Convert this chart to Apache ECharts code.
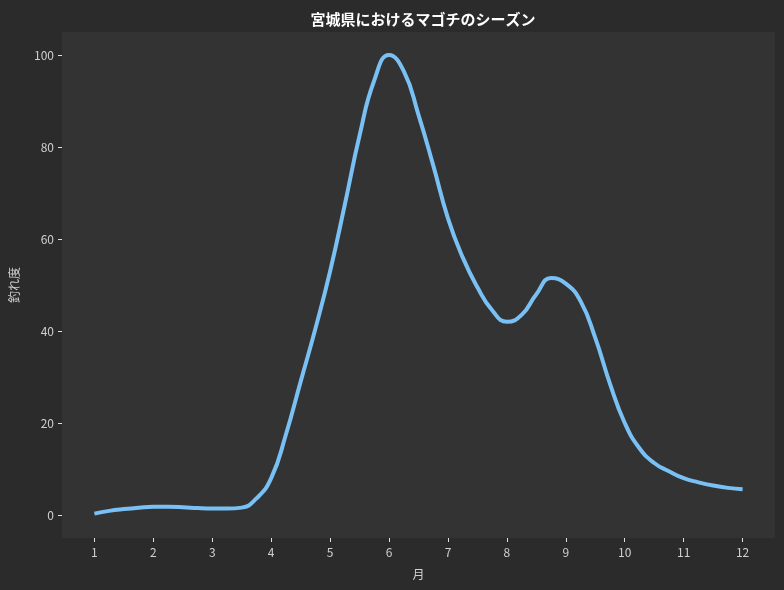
<!DOCTYPE html>
<html>
<head>
<meta charset="utf-8">
<script src="https://cdn.jsdelivr.net/npm/echarts@6/dist/echarts.min.js"></script>
<style>
  html, body { margin: 0; padding: 0; background: #2b2b2b; }
  #main { width: 784px; height: 590px; }
</style>
</head>
<body>
<div id="main"></div>
<script>
// 月（0.25か月刻み）と釣れ度
const months = [
  1, 1.25, 1.5, 1.75, 2, 2.25, 2.5, 2.75, 3, 3.25, 3.5, 3.75,
  4, 4.25, 4.5, 4.75, 5, 5.25, 5.5, 5.75, 6, 6.25, 6.5, 6.75,
  7, 7.25, 7.5, 7.75, 8, 8.25, 8.5, 8.75, 9, 9.25, 9.5, 9.75,
  10, 10.25, 10.5, 10.75, 11, 11.25, 11.5, 11.75, 12
];
const catchRate = [
  0.3, 0.9, 1.3, 1.6, 1.8, 1.8, 1.7, 1.5, 1.4, 1.4, 1.6, 3.6,
  8, 17.5, 29, 40.5, 53, 67.5, 82.5, 94.5, 100, 96.5, 87, 76,
  64.5, 56, 49.5, 44.5, 42, 43.5, 48, 51.5, 50.3, 46.5, 38.5, 28.5,
  20, 14.5, 11.3, 9.5, 8, 7.1, 6.4, 5.9, 5.6
];
const xTicks = [1, 2, 3, 4, 5, 6, 7, 8, 9, 10, 11, 12];
const yTicks = [0, 20, 40, 60, 80, 100];

const chart = echarts.init(document.getElementById('main'));
const font = '"Noto Sans CJK JP", "Noto Sans", sans-serif';

const option = {
  backgroundColor: '#2b2b2b',
  animation: false,
  title: {
    text: '宮城県におけるマゴチのシーズン',
    left: 418,
    top: 7,
    textAlign: 'center',
    textStyle: { color: '#ffffff', fontSize: 15, fontWeight: 'bold', fontFamily: font }
  },
  grid: {
    left: 61, right: 9, top: 32, bottom: 52,
    show: true, backgroundColor: '#333333', borderWidth: 0
  },
  xAxis: {
    type: 'value',
    min: 0.45,
    max: 12.55,
    name: '月',
    nameLocation: 'middle',
    nameGap: 30,
    nameTextStyle: { color: '#d0d0d0', fontSize: 12, fontFamily: font },
    axisLine: { show: false, onZero: false },
    splitLine: { show: false },
    axisTick: { show: true, length: 4, customValues: xTicks, lineStyle: { color: '#e0e0e0', width: 1 } },
    axisLabel: { customValues: xTicks, color: '#d0d0d0', fontSize: 12, fontFamily: font, margin: 8 }
  },
  yAxis: {
    type: 'value',
    min: -5,
    max: 105,
    name: '釣れ度',
    nameLocation: 'middle',
    nameGap: 42,
    nameTextStyle: { color: '#d0d0d0', fontSize: 12, fontFamily: font },
    axisLine: { show: false, onZero: false },
    splitLine: { show: false },
    axisTick: { show: true, length: 4, customValues: yTicks, lineStyle: { color: '#e0e0e0', width: 1 } },
    axisLabel: { customValues: yTicks, color: '#d0d0d0', fontSize: 12, fontFamily: font, margin: 8 }
  },
  series: [{
    type: 'line',
    smooth: 0.5,
    symbol: 'none',
    data: months.map((m, i) => [m, catchRate[i]]),
    lineStyle: { color: '#79c1f4', width: 4 }
  }]
};

chart.setOption(option);
</script>
</body>
</html>
